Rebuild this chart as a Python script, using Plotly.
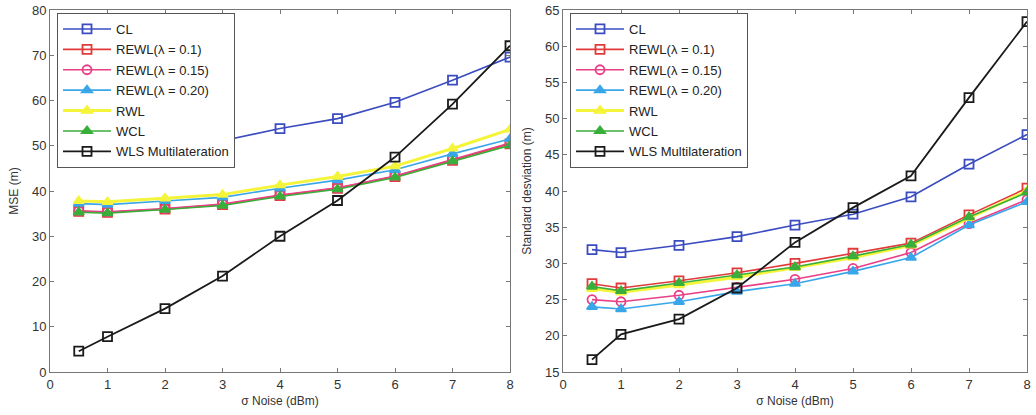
import plotly.graph_objects as go
from plotly.subplots import make_subplots

noise = [0.5, 1, 2, 3, 4, 5, 6, 7, 8]
names = ["CL", "REWL(λ = 0.1)", "REWL(λ = 0.15)", "REWL(λ = 0.20)", "RWL", "WCL", "WLS Multilateration"]

# MSE (m) - left panel
mse_cl = [48.0, 47.5, 49.5, 51.1, 53.8, 56.0, 59.6, 64.5, 69.6]
mse_rewl01 = [35.5, 35.3, 36.0, 37.0, 39.0, 40.6, 43.2, 46.8, 50.4]
mse_rewl015 = [35.6, 35.4, 36.1, 37.1, 39.1, 40.7, 43.3, 46.9, 50.6]
mse_rewl020 = [37.2, 37.0, 37.8, 38.6, 40.6, 42.4, 44.7, 48.2, 51.5]
mse_rwl = [37.8, 37.6, 38.4, 39.2, 41.3, 43.2, 45.5, 49.4, 53.6]
mse_wcl = [35.3, 35.1, 35.9, 36.8, 38.8, 40.4, 43.0, 46.6, 50.1]
mse_wls = [4.6, 7.8, 14.0, 21.2, 30.0, 37.9, 47.5, 59.2, 72.1]

# Standard deviation (m) - right panel
std_cl = [31.9, 31.5, 32.5, 33.7, 35.3, 36.8, 39.2, 43.7, 47.8]
std_rewl01 = [27.2, 26.6, 27.6, 28.7, 30.0, 31.4, 32.8, 36.7, 40.4]
std_rewl015 = [25.0, 24.7, 25.6, 26.7, 27.8, 29.3, 31.5, 35.5, 38.8]
std_rewl020 = [24.0, 23.7, 24.7, 26.1, 27.2, 28.9, 30.8, 35.3, 38.5]
std_rwl = [26.5, 26.0, 27.0, 28.1, 29.4, 30.8, 32.5, 36.3, 40.0]
std_wcl = [26.8, 26.2, 27.3, 28.4, 29.5, 31.0, 32.6, 36.4, 39.8]
std_wls = [16.7, 20.2, 22.3, 26.6, 32.9, 37.7, 42.1, 52.9, 63.4]

left_series = [mse_cl, mse_rewl01, mse_rewl015, mse_rewl020, mse_rwl, mse_wcl, mse_wls]
right_series = [std_cl, std_rewl01, std_rewl015, std_rewl020, std_rwl, std_wcl, std_wls]

colors = ["#3a4cc0", "#e23a3a", "#ea3f86", "#3aa6ea", "#f4f43a", "#3aae3a", "#1a1a1a"]
symbols = ["square-open", "square-open", "circle-open", "triangle-up", "triangle-up", "triangle-up", "square-open"]
widths = [1.6, 1.6, 1.6, 1.6, 3.0, 1.6, 1.8]

fig = make_subplots(rows=1, cols=2)

for panel, series in ((1, left_series), (2, right_series)):
    for i, ys in enumerate(series):
        fig.add_trace(
            go.Scatter(
                x=noise, y=ys, name=names[i], mode="lines+markers",
                line=dict(color=colors[i], width=widths[i]),
                marker=dict(symbol=symbols[i], size=9, color=colors[i],
                            line=dict(color=colors[i], width=1.8)),
                legend="legend" if panel == 1 else "legend2",
                legendgroup=f"g{panel}{i}",
            ),
            row=1, col=panel,
        )

font = dict(family="Liberation Sans, Arial, sans-serif", size=12, color="#333333")
axis_common = dict(
    showline=True, linecolor="#777777", linewidth=1, mirror="ticks",
    ticks="inside", ticklen=4, tickcolor="#777777", showgrid=False, zeroline=False,
    tickfont=dict(family="Liberation Sans, Arial, sans-serif", size=13, color="#333333"),
    automargin=False,
)
ydom = [43 / 415, 405 / 415]
legend_font = dict(family="Liberation Sans, Arial, sans-serif", size=13, color="#222222")
fig.update_xaxes(axis_common)
fig.update_yaxes(axis_common)
fig.update_layout(
    xaxis=dict(domain=[50 / 1036, 510 / 1036], range=[0, 8], dtick=1,
               title=dict(text="σ Noise (dBm)", standoff=6, font=font)),
    xaxis2=dict(domain=[563 / 1036, 1027 / 1036], range=[0, 8], dtick=1,
                title=dict(text="σ Noise (dBm)", standoff=6, font=font)),
    yaxis=dict(domain=ydom, range=[0, 80], dtick=10,
               title=dict(text="MSE (m)", standoff=10, font=font)),
    yaxis2=dict(domain=ydom, range=[15, 65], dtick=5,
                title=dict(text="Standard desviation (m)", standoff=10, font=font)),
    legend=dict(x=57 / 1036, y=1 - 13 / 415, xanchor="left", yanchor="top",
                bgcolor="white", bordercolor="#555555", borderwidth=1,
                font=legend_font, tracegroupgap=0.5, itemwidth=48),
    legend2=dict(x=570 / 1036, y=1 - 13 / 415, xanchor="left", yanchor="top",
                 bgcolor="white", bordercolor="#555555", borderwidth=1,
                 font=legend_font, tracegroupgap=0.5, itemwidth=48),
    width=1036, height=415,
    margin=dict(l=0, r=0, t=0, b=0),
    paper_bgcolor="white", plot_bgcolor="white",
    showlegend=True,
)

fig.write_html("out.html")
